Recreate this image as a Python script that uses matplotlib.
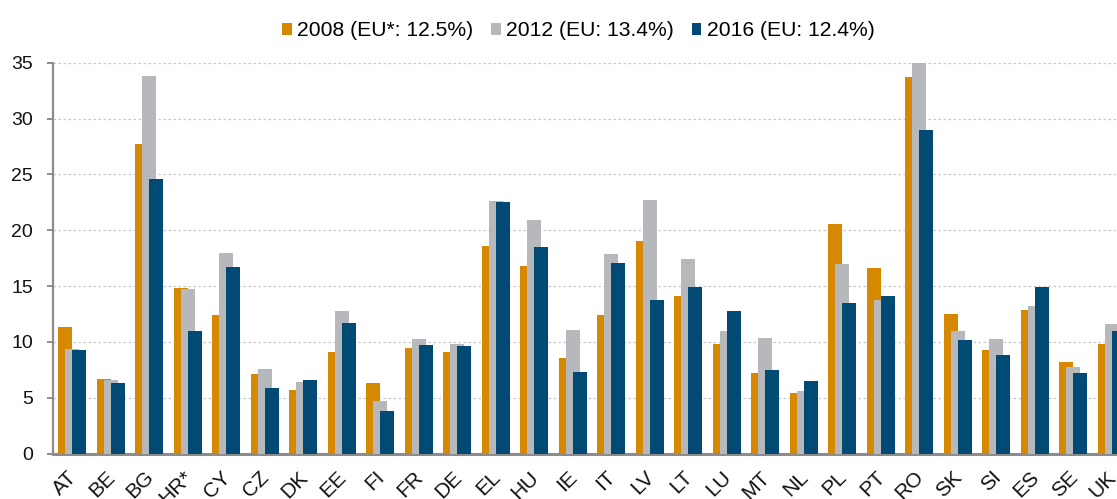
import matplotlib
matplotlib.use("Agg")
import matplotlib.pyplot as plt
import matplotlib.transforms as mtransforms
import numpy as np

plt.rcParams['font.family'] = ['Liberation Sans', 'DejaVu Sans']

countries = ["AT", "BE", "BG", "HR*", "CY", "CZ", "DK", "EE", "FI", "FR", "DE", "EL", "HU", "IE",
             "IT", "LV", "LT", "LU", "MT", "NL", "PL", "PT", "RO", "SK", "SI", "ES", "SE", "UK"]
v2008 = [11.3, 6.7, 27.7, 14.8, 12.4, 7.1, 5.7, 9.1, 6.3, 9.5, 9.1, 18.6, 16.8, 8.6,
         12.4, 19.0, 14.1, 9.8, 7.2, 5.4, 20.6, 16.6, 33.7, 12.5, 9.3, 12.9, 8.2, 9.8]
v2012 = [9.4, 6.6, 33.8, 14.7, 18.0, 7.6, 6.4, 12.8, 4.7, 10.3, 9.8, 22.6, 20.9, 11.1,
         17.9, 22.7, 17.4, 11.0, 10.4, 5.6, 17.0, 13.8, 35.5, 11.0, 10.3, 13.2, 7.8, 11.6]
v2016 = [9.3, 6.3, 24.6, 11.0, 16.7, 5.9, 6.6, 11.7, 3.8, 9.7, 9.6, 22.5, 18.5, 7.3,
         17.1, 13.8, 14.9, 12.8, 7.5, 6.5, 13.5, 14.1, 29.0, 10.2, 8.8, 14.9, 7.2, 11.0]
series_labels = ["2008 (EU*: 12.5%)", "2012 (EU: 13.4%)", "2016 (EU: 12.4%)"]
yticks = [0, 5, 10, 15, 20, 25, 30, 35]

colors = ["#D68800", "#B7B8BB", "#004A74"]

fig = plt.figure(figsize=(11.17, 4.99), dpi=100)
ax = fig.add_axes([53/1117, 1 - 453.7/499, (1131 - 53)/1117, (453.7 - 62.7)/499])

x = np.arange(len(countries))
w = 0.364
off = 0.182
for i, (vals, c, lab) in enumerate(zip([v2008, v2012, v2016], colors, series_labels)):
    ax.bar(x + (i - 1) * off, vals, width=w, color=c, label=lab, zorder=2 + i, linewidth=0)

ax.set_xlim(-0.5, len(countries) - 0.5)
ax.set_ylim(0, 35)
ax.set_yticks(yticks)
ax.set_yticklabels([str(t) for t in yticks], fontsize=14, color="#111111")
ax.yaxis.grid(True, linestyle=(0, (2, 2)), color="#C8C8C8", linewidth=0.9, zorder=0)
ax.set_axisbelow(True)

for s in ["top", "right"]:
    ax.spines[s].set_visible(False)
ax.spines["left"].set_color("#8C8C8C")
ax.spines["left"].set_linewidth(1.6)
ax.spines["bottom"].set_color("#8C8C8C")
ax.spines["bottom"].set_linewidth(2.2)
ax.tick_params(axis="y", direction="out", length=4.5, width=1.4, color="#8C8C8C", pad=10)
ax.tick_params(axis="x", length=0, pad=10)

ax.set_xticks(x)
ax.set_xticklabels(countries, rotation=45, ha="right", va="center", rotation_mode="anchor",
                   fontsize=15, color="#111111")
shift = mtransforms.ScaledTranslation(1.0/72, -4.8/72, fig.dpi_scale_trans)
for lbl in ax.get_xticklabels():
    lbl.set_transform(lbl.get_transform() + shift)

fig.legend(loc="upper center", bbox_to_anchor=(0.5175, 0.995), ncol=3, frameon=False,
           fontsize=15.2, handlelength=0.47, handleheight=0.47, handletextpad=0.24,
           columnspacing=0.85)

fig.savefig("out.png", dpi=100)
